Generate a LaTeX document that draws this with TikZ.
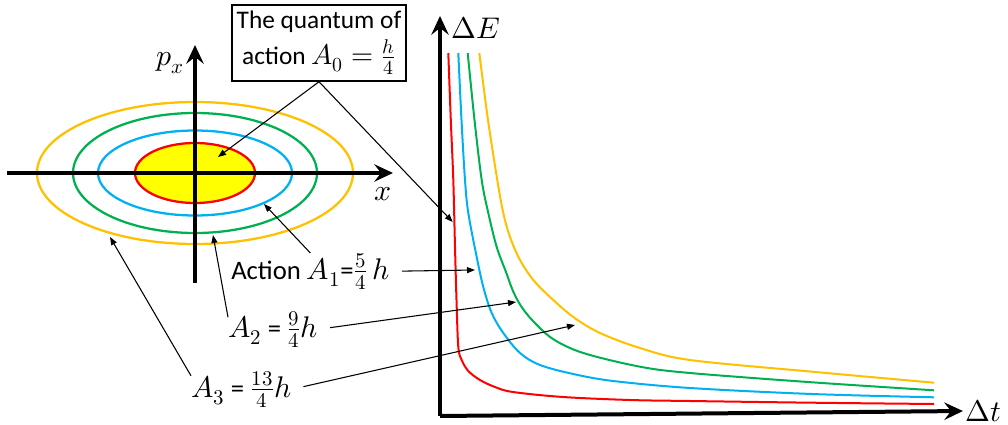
\documentclass[tikz,border=0pt]{standalone}
\usepackage{fontspec}
\usepackage{unicode-math}
\setmainfont{Carlito}
\setmathfont{Latin Modern Math}[Scale=1.12]
\usetikzlibrary{arrows.meta}
\definecolor{ppyellow}{HTML}{FFFF00}
\definecolor{ppred}{HTML}{FF0000}
\definecolor{ppblue}{HTML}{00B0F0}
\definecolor{ppgreen}{HTML}{00B050}
\definecolor{pporange}{HTML}{FFC000}
\begin{document}
\begin{tikzpicture}[x=0.75pt,y=-0.75pt,
    axis/.style={line width=3pt,-{Stealth[length=14pt,width=13pt,inset=5pt]}},
    pointer/.style={line width=0.8pt,-{Triangle[length=6pt,width=4.5pt]}},
    orbit/.style={line width=1.7pt},
    curve/.style={line width=1.5pt,smooth,tension=0.55},
    lbl/.style={font=\fontsize{20}{24}\selectfont,inner sep=0pt,anchor=base west}]
    \useasboundingbox (0,0) rectangle (1008,425);
    % phase plane
    \fill[ppyellow] (195,173) ellipse [x radius=60, y radius=30];
    \draw[orbit,ppred] (195,173) ellipse [x radius=60, y radius=30];
    \draw[orbit,ppblue] (195,173) ellipse [x radius=97, y radius=42.5];
    \draw[orbit,ppgreen] (195,173) ellipse [x radius=122, y radius=60];
    \draw[orbit,pporange] (195,173) ellipse [x radius=158, y radius=71];
    \draw[axis] (7,173) -- (393,173);
    \draw[axis] (195,283) -- (195,45);
    \node[font=\fontsize{20}{24}\selectfont] (pxlbl) at (170,63) {$p_x$};
    \node[font=\fontsize{20}{24}\selectfont] (xlbl) at (383,194) {$x$};
    % energy-time plane
    \draw[axis] (440,416) -- (963,411);
    \draw[axis] (440,416) -- (440,16);
    \node[font=\fontsize{20}{24}\selectfont,inner sep=0pt,anchor=west] (delbl) at (451,28) {$\Delta E$};
    \node[font=\fontsize{20}{24}\selectfont,inner sep=0pt,anchor=west] (dtlbl) at (965,411) {$\Delta t$};
    \draw[curve,ppred] plot coordinates {(448.3,53) (450.8,120) (453.3,180) (455,247) (456.5,300) (458.3,347) (461.7,360) (468.3,371) (480,380) (495,387) (513,392) (563,397) (630,400) (690,401) (812,402.7) (934,404)};
    \draw[curve,ppblue] plot coordinates {(458.3,53) (461.5,120) (465,180) (468.3,213) (476.7,257) (483.3,287) (491.7,313) (503.3,333) (520,353) (540,365) (573.3,374) (613.3,381) (690,388) (812,394) (934,397.3)};
    \draw[curve,ppgreen] plot coordinates {(467.7,53) (474.5,120) (481.7,180) (488.3,213) (496.7,247) (506,272) (513,291) (521,306) (533,321) (553,339) (583.3,353) (640,366.7) (690,373) (812,382.3) (934,390.3)};
    \draw[curve,pporange] plot coordinates {(479.3,53) (488,120) (497.3,180) (503.3,213) (510,237) (520,260) (533.3,280) (550,297) (573.3,317) (600,333) (640,348) (690,360) (812,371.7) (934,382.7)};
    % labels
    \node[draw,line width=1.1pt,fill=white,minimum width=130.5pt,minimum height=57pt,align=center,inner sep=2pt,
        font=\fontsize{19}{27}\selectfont] (quantum) at (319,43) {The quantum of\\action $A_0=\frac{h}{4}$};
    \node[lbl] (lblone) at (231,279) {Action $A_1$=$\frac{5}{4}\,h$};
    \node[lbl] (lbltwo) at (228,337) {$A_2$ = $\frac{9}{4}h$};
    \node[lbl] (lblthree) at (191,397) {$A_3$ = $\frac{13}{4}h$};
    \coordinate (core) at (218,157);
    \coordinate (redhit) at (452.7,222);
    \coordinate (blueell) at (264,204);
    \coordinate (bluecur) at (475,270);
    \coordinate (greenell) at (213,235);
    \coordinate (greencur) at (516,302);
    \coordinate (orangeell) at (110,237);
    \coordinate (orangecur) at (575,325);
    \draw[pointer] (quantum.south) -- (core);
    \draw[pointer] (quantum.south) -- (redhit);
    \draw[pointer] (lblone.north) -- (blueell);
    \draw[pointer] (lbltwo.165) -- (greenell);
    \draw[pointer] (lblthree.165) -- (orangeell);
    \draw[pointer,shorten <=9pt] (lblone.east) -- (bluecur);
    \draw[pointer,shorten <=9pt] (lbltwo.east) -- (greencur);
    \draw[pointer,shorten <=9pt] (lblthree.east) -- (orangecur);
\end{tikzpicture}
\end{document}
